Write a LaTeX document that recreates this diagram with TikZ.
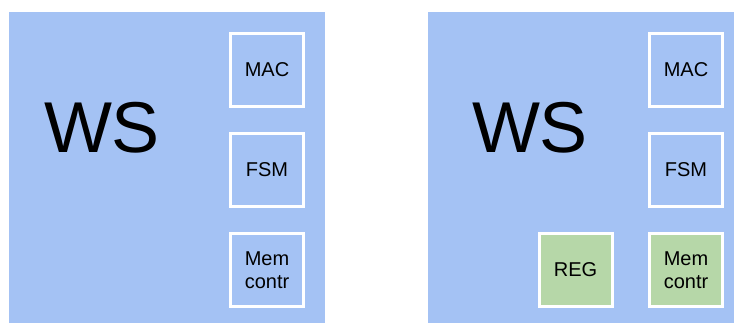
\documentclass[tikz,border=0pt]{standalone}
\usepackage{fontspec}
\setmainfont{Liberation Sans}
\usepackage{tikz}
\usetikzlibrary{positioning}

\definecolor{wsblue}{HTML}{A4C2F4}
\definecolor{reggreen}{HTML}{B6D7A8}

\begin{document}
\begin{tikzpicture}[
            x=1pt, y=-1pt,
            panel/.style={fill=wsblue, draw=none},
            unit/.style={draw=white, line width=3pt, fill=wsblue, minimum size=73pt,
                inner sep=0pt, align=center, font={\fontsize{20}{23}\selectfont}},
            added/.style={unit, fill=reggreen},
            title/.style={inner sep=0pt, font={\fontsize{72}{72}\selectfont}}
        ]

            \useasboundingbox (0,0) rectangle (734,323);

            % first work station
            \fill[panel] (9,12) rectangle (325,323);
            \node[title] (wsA) at (102,128) {WS};
            \node[unit] (macA) at (267,70) {MAC};
            \node[unit] (fsmA) at (267,170) {FSM};
            \node[unit] (memA) at (267,270) {Mem\\contr};

            % second work station, with register
            \fill[panel] (428,12) rectangle (734,323);
            \node[title] (wsB) at (530,128) {WS};
            \node[unit] (macB) at (686,70) {MAC};
            \node[unit] (fsmB) at (686,170) {FSM};
            \node[added] (memB) at (686,270) {Mem\\contr};
            \node[added] (regB) at (575.5,270) {REG};
        \end{tikzpicture}
\end{document}
